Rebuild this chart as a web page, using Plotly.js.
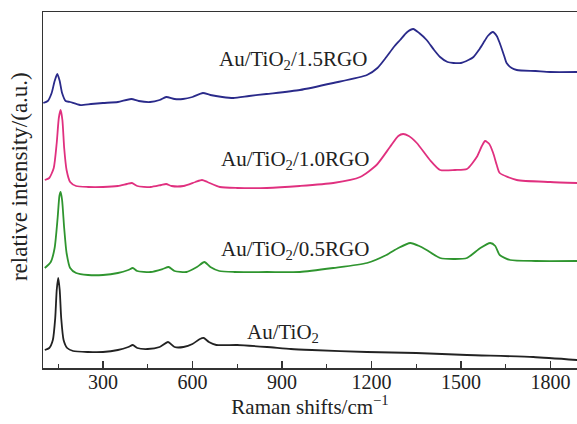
<!DOCTYPE html>
<html>
<head>
<meta charset="utf-8">
<script src="https://cdn.plot.ly/plotly-3.0.1.min.js"></script>
<style>html,body{margin:0;padding:0;background:#fff;}#chart{width:577px;height:424px;}</style>
</head>
<body>
<div id="chart"></div>
<script>
// Au/TiO2
const xBlack = [105,120,132,140,145,150,155,160,168,180,200,250,300,350,385,400,415,450,490,518,540,570,600,625,638,655,680,750,850,930,1000,1185,1350,1520,1742,1890];
const yBlack = [18,20,28,50,78,90,78,50,28,20,17,16,16,18,21,23,20,19,21,26,21,21,24,29,30,26,23,23,21,19,18,16,15,13,11,8];
// Au/TiO2/0.5RGO
const xGreen = [105,125,138,148,154,158,163,170,178,190,210,250,300,350,385,400,415,460,500,520,540,580,615,640,660,690,740,850,960,1072,1185,1250,1290,1330,1360,1385,1430,1480,1520,1565,1598,1615,1630,1665,1750,1890];
const yGreen = [100,106,120,150,172,176,168,140,115,100,95,93,93,95,98,100,97,96,99,101,97,96,101,106,101,97,96,96,96,100,105,113,120,125,122,118,110,109,110,120,125,122,113,108,107,107];
// Au/TiO2/1.0RGO
const xPink = [105,120,135,145,152,158,164,170,178,190,210,250,300,350,380,397,415,460,495,512,530,570,610,632,650,692,750,849,960,1072,1162,1217,1262,1290,1306,1325,1352,1396,1430,1480,1520,1553,1570,1581,1595,1608,1620,1630,1687,1799,1890];
const yPink = [188,190,200,225,250,258,248,220,198,186,182,181,181,182,184,185,182,181,183,184,182,182,186,188,186,181,180,180,182,185,191,203,221,232,234,232,225,208,198,198,199,211,222,227,224,215,203,195,188,186,185];
// Au/TiO2/1.5RGO
const xBlue = [100,115,128,138,147,155,163,175,190,223,260,300,350,395,420,458,490,512,540,568,600,635,660,700,737,790,848,960,1072,1185,1220,1250,1275,1296,1320,1340,1360,1385,1410,1430,1455,1475,1500,1525,1542,1560,1575,1590,1607,1620,1630,1645,1653,1670,1687,1750,1799,1890];
const yBlue = [265,267,275,287,294,287,275,267,266,263,264,265,266,269,267,266,268,271,269,269,271,275,273,271,270,272,274,278,285,293,300,311,321,328,336,339,335,328,318,311,306,305,305,308,311,318,325,332,336,332,325,312,305,300,298,297,296,296];

const labels = ["Au/TiO<sub>2</sub>", "Au/TiO<sub>2</sub>/0.5RGO", "Au/TiO<sub>2</sub>/1.0RGO", "Au/TiO<sub>2</sub>/1.5RGO"];
const tickVals = [300,600,900,1200,1500,1800];

const serif = '"Liberation Serif","Times New Roman",serif';
function tr(x,y,c){return {x:x,y:y,type:'scatter',mode:'lines',line:{color:c,width:1.8,shape:'spline',smoothing:0.6},hoverinfo:'none',showlegend:false};}
const data = [
  tr(xBlack,yBlack,'#222222'),
  tr(xGreen,yGreen,'#2f952f'),
  tr(xPink,yPink,'#e0307f'),
  tr(xBlue,yBlue,'#2a2a8a')
];
const ann = (t,x,y)=>({text:t,x:x,y:y,xref:'x',yref:'y',showarrow:false,font:{family:serif,size:21,color:'#222'}});
const layout = {
  width:577,height:424,
  margin:{l:43,r:0,t:12,b:56},
  paper_bgcolor:'#fff',plot_bgcolor:'#fff',
  font:{family:serif,size:20,color:'#222'},
  xaxis:{range:[99,1889],tickvals:tickVals,ticks:'inside',ticklen:7,tickwidth:1.5,tickcolor:'#333',
    minor:{dtick:150,tick0:150,ticks:'inside',ticklen:4,tickwidth:1.2,tickcolor:'#333'},
    showline:true,mirror:true,linecolor:'#333',linewidth:1.5,showgrid:false,zeroline:false,
    ticklabelstandoff:-5,
    tickfont:{family:serif,size:20,color:'#222'},
    title:{text:'Raman shifts/cm<sup>−1</sup>',font:{family:serif,size:21,color:'#222'},standoff:6}},
  yaxis:{range:[0,356],showticklabels:false,ticks:'',showline:true,linecolor:'#333',linewidth:1.5,showgrid:false,zeroline:false},
  annotations:[
    ann(labels[3],937,308), ann(labels[2],943,208), ann(labels[1],943,118), ann(labels[0],903,35),
    {text:'relative intensity/(a.u.)',xref:'paper',yref:'paper',x:-0.045,y:0.539,xanchor:'center',yanchor:'middle',textangle:-90,showarrow:false,font:{family:serif,size:23,color:'#222'}}
  ]
};
Plotly.newPlot('chart',data,layout,{staticPlot:true,displayModeBar:false});
</script>
</body>
</html>
